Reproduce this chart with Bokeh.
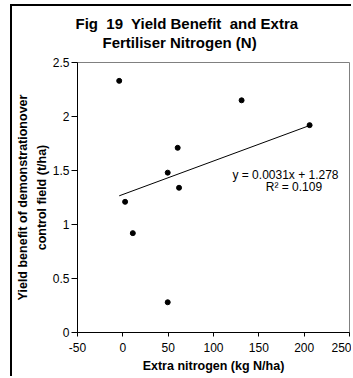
from bokeh.plotting import figure
from bokeh.models import Label, FixedTicker, Title
from bokeh.embed import file_html
from bokeh.resources import INLINE

# ---- data ----
extra_n = [-4, 2.5, 11, 49.5, 49.5, 60.5, 62, 131, 206]
yield_benefit = [2.33, 1.21, 0.92, 1.48, 0.28, 1.71, 1.34, 2.15, 1.92]
trend_slope = 0.0031
trend_intercept = 1.278
x_ticks = [-50, 0, 50, 100, 150, 200, 250]
x_tick_labels = ["-50", "0", "50", "100", "150", "200", "250"]
y_ticks = [0, 0.5, 1, 1.5, 2, 2.5]
y_tick_labels = ["0", "0.5", "1", "1.5", "2", "2.5"]
title_lines = ["Fig\u00a0 19\u00a0 Yield Benefit\u00a0 and Extra", "Fertiliser Nitrogen (N)"]
y_label = "Yield benefit of demonstrationover\ncontrol field (t/ha)"
x_label = "Extra nitrogen (kg N/ha)"
eq_text = "y = 0.0031x + 1.278"
r2_text = "R\u00b2 = 0.109"

FONT = "Liberation Sans"

p = figure(width=341, height=372, x_range=(-50, 250), y_range=(0, 2.5),
           output_backend="svg", toolbar_location=None,
           min_border_left=63, min_border_right=4, min_border_top=56, min_border_bottom=46)
p.styles = {"position": "relative", "left": "10px", "top": "4px",
            "border-left": "2px solid black", "border-top": "2px solid black"}

p.background_fill_color = "white"
p.border_fill_color = "white"
p.xgrid.visible = False
p.ygrid.visible = False
p.outline_line_color = "#808080"
p.outline_line_width = 1

# titles: p.title is the outer line, the added Title sits nearer the frame
p.title.text = title_lines[0]
p.title.align = "left"
p.title.offset = -2
p.title.text_font = FONT
p.title.text_font_size = "15px"
p.title.text_font_style = "bold"
p.title.text_color = "black"
p.title.standoff = 0
p.add_layout(Title(text=title_lines[1], align="left", offset=25, text_font=FONT,
                   text_font_size="15px", text_font_style="bold", text_color="black",
                   standoff=0, padding=(0, 0, 0, 12)), "above")

# axes
p.xaxis.ticker = FixedTicker(ticks=x_ticks)
p.xaxis.major_label_overrides = dict(zip(x_ticks, x_tick_labels))
p.yaxis.ticker = FixedTicker(ticks=y_ticks)
p.yaxis.major_label_overrides = dict(zip(y_ticks, y_tick_labels))
for ax in (p.xaxis, p.yaxis):
    ax.axis_line_color = "black"
    ax.major_tick_line_color = "black"
    ax.minor_tick_line_color = None
    ax.major_tick_in = 0
    ax.major_label_text_font = FONT
    ax.major_label_text_font_size = "12px"
    ax.major_label_text_color = "black"
    ax.axis_label_text_font = FONT
    ax.axis_label_text_font_size = "12.5px"
    ax.axis_label_text_font_style = "bold"
    ax.axis_label_text_color = "black"
p.xaxis.major_tick_out = 4
p.xaxis.major_label_standoff = 6
p.xaxis.axis_label = x_label
p.xaxis.axis_label_standoff = 4
p.yaxis.major_tick_out = 6
p.yaxis.major_label_standoff = 2
p.yaxis.axis_label = y_label
p.yaxis.axis_label_standoff = 1
p.yaxis.axis_label_text_line_height = 1.35

# trend line over the data extent
x0, x1 = min(extra_n), max(extra_n)
p.line([x0, x1], [trend_slope * x0 + trend_intercept, trend_slope * x1 + trend_intercept],
       line_color="black", line_width=1)

p.scatter(extra_n, yield_benefit, size=5, marker="circle",
          fill_color="black", line_color="black")

for text, x, y in [(eq_text, 179.4, 1.454), (r2_text, 188.7, 1.346)]:
    p.add_layout(Label(x=x, y=y, text=text, text_font=FONT, text_font_size="12px",
                       text_align="center", text_baseline="middle", text_color="black"))

open("out.html", "w").write(file_html(p, INLINE))
